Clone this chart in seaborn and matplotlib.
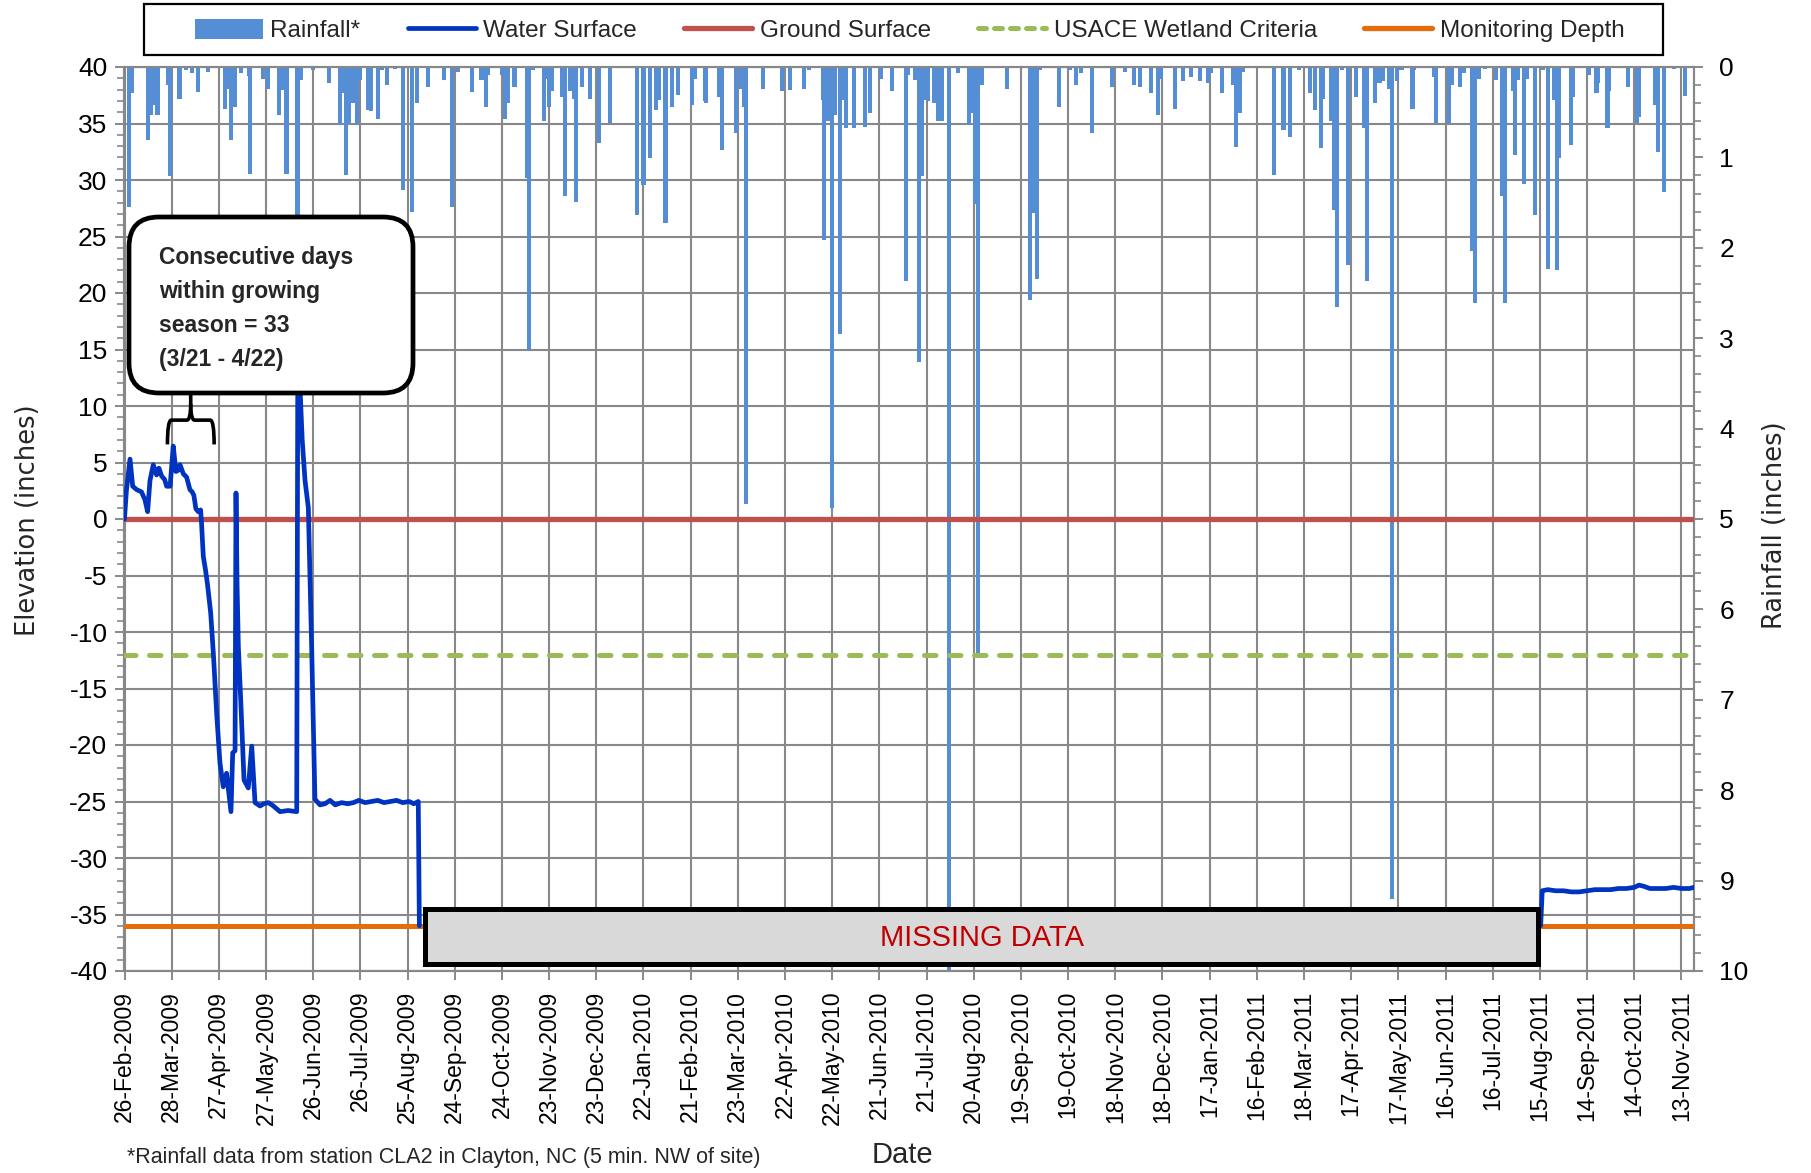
import numpy as np
import pandas as pd
import matplotlib
matplotlib.use("Agg")
import matplotlib.pyplot as plt
import matplotlib.dates as mdates
import matplotlib.transforms as mtrans
from matplotlib.ticker import MultipleLocator, FixedLocator
from matplotlib.patches import Rectangle, FancyBboxPatch, Patch, PathPatch
from matplotlib.lines import Line2D
from matplotlib.path import Path
from matplotlib import font_manager as fm
import seaborn as sns

# ---------------- data (days counted from START) ----------------
START = "2009-02-26"
X_END_DAY = 998
TICK_STEP_DAYS = 30
N_TICKS = 34

water1_day = [0, 1.2, 3.5, 5.2, 7.7, 10.8, 13, 14.7, 16.2, 18.3, 20.4, 21.9, 23.6, 25.5, 26.8, 29,
              31, 32.7, 34, 35.3, 37.4, 39.5, 41.6, 43, 44.1, 45.4, 46.9, 48.4, 49, 50.1, 51.5, 52.7,
              54.8, 56.5, 58.6, 60.7, 62.8, 64.9, 67.7, 68.8, 70.3, 70.9, 71.6, 72.4, 73.9, 76, 78.7,
              80.9, 83, 86.2, 88.5, 91.5, 94.7, 98.9, 104, 109.5, 110.2, 111.5, 113, 114.8, 116.9, 119,
              121.1, 124.3, 127.5, 130.7, 134, 138, 142, 145.5, 149, 153, 157, 161, 165, 169, 173, 177,
              181, 184, 186.8, 187.5]
water1_elev = [0, 2.5, 5.3, 2.9, 2.6, 2.4, 1.7, 0.65, 3.4, 4.8, 3.9, 4.5, 3.8, 3.5, 2.9, 2.9,
               6.45, 4.2, 4.3, 4.8, 4.0, 3.7, 2.6, 2.4, 2.1, 0.9, 0.65, 0.8, -0.4, -3.3, -4.5, -5.7,
               -8.3, -11.9, -17.2, -21.6, -23.7, -22.5, -25.9, -20.7, -20.5, 2.3, -6.0, -11.3, -16.0, -23.1, -23.8,
               -20.1, -25.1, -25.4, -25.2, -25.1, -25.4, -25.9, -25.8, -25.9, 14.0, 12.0, 7.0, 3.4, 1.0, -11.3,
               -24.8, -25.3, -25.2, -24.9, -25.3, -25.1, -25.2, -25.1, -24.9, -25.1, -25.0, -24.9, -25.1, -25.0, -24.9, -25.1,
               -25.0, -25.2, -25.0, -36.0]

water2_day = [900.5, 901.5, 905, 910, 915, 920, 925, 930, 935, 940, 945, 950, 955, 960, 963, 966,
              970, 975, 980, 985, 990, 995, 998]
water2_elev = [-36.0, -32.9, -32.8, -32.9, -32.9, -33.0, -33.0, -32.9, -32.8, -32.8, -32.8, -32.7, -32.7, -32.6, -32.4, -32.5,
               -32.7, -32.7, -32.7, -32.6, -32.7, -32.7, -32.6]

rain_day = [3, 5, 15, 17, 19, 21, 28, 29, 35, 39, 43, 47, 53, 64, 66, 68, 70, 74, 79, 80,
            88, 91, 98, 100, 103, 110, 112, 120, 130, 137, 139, 141, 143, 145, 148, 150, 155, 157, 161, 164,
            167, 172, 177, 183, 186, 193, 203, 208, 212, 221, 227, 230, 231, 240, 242, 244, 248, 256, 257, 260,
            267, 268, 270, 272, 278, 280, 283, 286, 287, 291, 296, 302, 309, 326, 330, 334, 338, 340, 344, 348,
            352, 361, 363, 369, 370, 378, 380, 389, 392, 394, 395, 406, 418, 423, 432, 435, 444, 445, 447, 450,
            452, 455, 456, 459, 464, 471, 474, 481, 488, 497, 498, 503, 505, 507, 509, 511, 515, 517, 520, 524,
            530, 537, 539, 541, 543, 545, 561, 576, 578, 580, 582, 594, 601, 605, 608, 615, 628, 636, 642, 646,
            653, 657, 659, 668, 673, 678, 684, 689, 691, 698, 705, 707, 709, 711, 731, 737, 741, 747, 754, 757,
            761, 762, 767, 769, 771, 774, 778, 783, 788, 790, 795, 798, 800, 804, 806, 809, 812, 819, 820, 833,
            834, 842, 844, 849, 852, 857, 859, 861, 865, 872, 876, 878, 883, 884, 886, 890, 892, 897, 902, 905,
            909, 911, 912, 920, 921, 931, 936, 937, 943, 944, 956, 962, 963, 973, 975, 979, 985, 992]
rain_in = [1.55, 0.29, 0.81, 0.53, 0.42, 0.53, 0.20, 1.21, 0.35, 0.03, 0.07, 0.28, 0.05, 0.46, 0.24, 0.81, 0.44, 0.07, 0.10, 1.18,
           0.13, 0.24, 0.53, 0.25, 1.18, 2.5, 0.14, 0.03, 0.18, 0.64, 0.29, 1.20, 0.62, 0.40, 0.64, 0.14, 0.48, 0.49, 0.57, 0.03,
           0.20, 0.02, 1.36, 1.60, 0.40, 0.22, 0.14, 1.55, 0.05, 0.28, 0.14, 0.44, 0.09, 0.09, 0.57, 0.40, 0.22, 1.23, 3.13, 0.03,
           0.60, 0.13, 0.44, 0.27, 0.33, 1.43, 0.27, 0.35, 1.49, 0.22, 0.35, 0.84, 0.62, 1.64, 1.30, 1.01, 0.48, 0.37, 1.73, 0.44,
           0.31, 0.42, 0.13, 0.38, 0.40, 0.33, 0.92, 0.73, 0.24, 0.44, 4.83, 0.24, 0.27, 0.25, 0.24, 0.03, 0.37, 1.91, 0.60, 4.88,
           0.53, 2.95, 0.37, 0.68, 0.68, 0.66, 0.51, 0.13, 0.27, 2.37, 0.09, 0.14, 3.26, 1.21, 0.37, 0.38, 0.40, 0.60, 0.60, 10.3,
           0.07, 0.64, 0.51, 1.51, 6.50, 0.20, 0.24, 2.58, 1.62, 2.34, 0.03, 0.44, 0.03, 0.20, 0.07, 0.73, 0.22, 0.05, 0.20, 0.22,
           0.29, 0.53, 0.13, 0.46, 0.16, 0.11, 0.16, 0.18, 0.07, 0.29, 0.20, 0.88, 0.51, 0.05, 1.19, 0.70, 0.77, 0.03, 0.29, 0.48,
           0.90, 0.35, 0.60, 1.58, 2.65, 0.03, 2.19, 0.33, 0.68, 2.37, 0.40, 0.18, 0.16, 0.24, 9.20, 0.16, 0.03, 0.46, 0.03, 0.11,
           0.62, 0.63, 0.20, 0.22, 0.07, 2.04, 2.61, 0.13, 0.02, 0.14, 1.43, 2.61, 0.27, 0.97, 0.14, 1.29, 0.13, 1.64, 0.03, 2.23,
           0.37, 2.25, 1.01, 0.86, 0.33, 0.09, 0.29, 0.18, 0.68, 0.27, 0.22, 0.62, 0.55, 0.42, 0.94, 1.38, 0.02, 0.32]

GROUND_ELEV = 0
USACE_ELEV = -12
MONITOR_ELEV = -36
MISSING_START_DAY = 191
MISSING_END_DAY = 899
MISSING_BOTTOM = -39.4
MISSING_TOP = -34.55

legend_labels = ["Rainfall*", "Water Surface", "Ground Surface", "USACE Wetland Criteria", "Monitoring Depth"]
callout_text = "Consecutive days\nwithin growing\nseason = 33\n(3/21 - 4/22)"
footnote = "*Rainfall data from station CLA2 in Clayton, NC (5 min. NW of site)"

# ---------------- style ----------------
RAIN = "#558ED5"
WATER = "#0033C0"
GROUND = "#C0504D"
USACE = "#9BBB59"
MONITOR = "#E46C0A"
GRID = "#888888"

sns.set_theme(style="white")
installed = {f.name for f in fm.fontManager.ttflist}
BASE = "Liberation Sans" if "Liberation Sans" in installed else "DejaVu Sans"
HAS_NARROW = "Liberation Sans Narrow" in installed
NARROW = "Liberation Sans Narrow" if HAS_NARROW else BASE
plt.rcParams["font.family"] = [BASE, "DejaVu Sans"]
plt.rcParams["axes.unicode_minus"] = False

W, H = 1811, 1173
fig = plt.figure(figsize=(W / 100, H / 100), dpi=100)
fig.patch.set_facecolor("white")
L, R, T, B = 124.5, 1694, 67, 971
ax = fig.add_axes([L / W, 1 - B / H, (R - L) / W, (B - T) / H])
ax2 = ax.twinx()
ax.set_zorder(3)
ax.patch.set_visible(False)
ax2.set_zorder(1)

s0 = mdates.date2num(pd.Timestamp(START))

# ---- grid (drawn on the lower axes, beneath bars) ----
tick_x = s0 + np.arange(N_TICKS) * TICK_STEP_DAYS
for xv in tick_x:
    ax2.axvline(xv, color=GRID, lw=1.5, zorder=0)
blend = mtrans.blended_transform_factory(ax2.transAxes, ax.transData)
for e in np.arange(-40, 41, 5):
    ax2.plot([0, 1], [e, e], transform=blend, color=GRID, lw=1.5, zorder=0)

# ---- rainfall bars (secondary, inverted) ----
ax2.bar(s0 + np.array(rain_day, dtype=float), rain_in, width=2.6, color=RAIN,
        linewidth=0, zorder=2)
ax2.set_ylim(10, 0)

# ---- water surface ----
df = pd.concat([
    pd.DataFrame({"day": water1_day, "elev": water1_elev, "seg": 1}),
    pd.DataFrame({"day": water2_day, "elev": water2_elev, "seg": 2}),
], ignore_index=True)
df["x"] = s0 + df["day"]

ax.axhline(GROUND_ELEV, color=GROUND, lw=3.8, zorder=4)
ax.axhline(USACE_ELEV, color=USACE, lw=3.6, dashes=(2.3, 2.7), dash_capstyle="round", zorder=4)
ax.axhline(MONITOR_ELEV, color=MONITOR, lw=3.6, zorder=4)
sns.lineplot(data=df, x="x", y="elev", units="seg", estimator=None, sort=False,
             color=WATER, linewidth=3.4, ax=ax, legend=False, zorder=6)

# ---- axes limits, ticks ----
ax.set_xlim(s0, s0 + X_END_DAY)
ax.set_ylim(-40, 40)
ax.set_xlabel("")
ax.set_ylabel("")
ax.xaxis.set_major_locator(FixedLocator(tick_x))
ax.xaxis.set_major_formatter(mdates.DateFormatter("%d-%b-%Y"))
ax.yaxis.set_major_locator(MultipleLocator(5))
ax.yaxis.set_minor_locator(MultipleLocator(1))
ax.tick_params(axis="y", which="both", left=True, right=False, direction="out", color=GRID, labelcolor="black")
ax.tick_params(axis="y", which="major", length=6.3, width=1.4, labelsize=19, pad=6)
ax.tick_params(axis="y", which="minor", length=4.8, width=1.2)
ax.tick_params(axis="x", which="major", bottom=True, direction="out", length=6.3, width=1.4,
               color=GRID, labelcolor="black", labelsize=16.5, labelrotation=90, pad=8)

ax2.set_yticks(np.arange(0, 11, 1))
ax2.yaxis.set_minor_locator(MultipleLocator(0.2))
ax2.tick_params(axis="y", which="both", right=True, left=False, direction="out", color=GRID, labelcolor="black")
ax2.tick_params(axis="y", which="major", length=6.3, width=1.4, labelsize=19, pad=12)
ax2.tick_params(axis="y", which="minor", length=4.8, width=1.2)
ax2.set_ylabel("")

for a in (ax, ax2):
    for sp in a.spines.values():
        sp.set_color(GRID)
        sp.set_linewidth(1.5)

# ---- missing data box ----
ax.add_patch(Rectangle((s0 + MISSING_START_DAY, MISSING_BOTTOM), MISSING_END_DAY - MISSING_START_DAY,
                       MISSING_TOP - MISSING_BOTTOM, facecolor="#D9D9D9", edgecolor="black",
                       lw=3.6, zorder=8))
ax.text(s0 + (MISSING_START_DAY + MISSING_END_DAY) / 2, (MISSING_TOP + MISSING_BOTTOM) / 2 - 0.1,
        "MISSING DATA", color="#C00000", fontsize=(24 if HAS_NARROW else 21),
        family=[NARROW, "DejaVu Sans"], ha="center", va="center", zorder=9)

# ---- callout ----
ax_w, ax_h = R - L, B - T
x0, x1 = (129 - L) / ax_w, (413 - L) / ax_w
y0, y1 = (B - 393) / ax_h, (B - 217) / ax_h
rad = 30 / ax_w
ax.add_patch(FancyBboxPatch((x0, y0), x1 - x0, y1 - y0,
                            boxstyle=f"round,pad=0,rounding_size={rad}",
                            mutation_aspect=ax_w / ax_h, transform=ax.transAxes,
                            facecolor="white", edgecolor="black", lw=3.4, zorder=10))
ax.text((159 - L) / ax_w, (B - 246) / ax_h, callout_text, transform=ax.transAxes,
        ha="left", va="top", fontsize=(19 if HAS_NARROW else 16.5), fontweight="heavy",
        family=[NARROW, "DejaVu Sans"], linespacing=(1.25 if HAS_NARROW else 1.62), zorder=11)

# brace under the callout
def bx(d):
    return s0 + d
left = [(bx(27.3), 6.6), (bx(27.3), 8.75), (bx(29.8), 8.75), (bx(39.6), 8.75),
        (bx(42.1), 8.75), (bx(42.1), 10.2), (bx(42.1), 11.3)]
right = [(bx(57.0), 6.6), (bx(57.0), 8.75), (bx(54.5), 8.75), (bx(44.6), 8.75),
         (bx(42.1), 8.75), (bx(42.1), 10.2)]
codes_l = [Path.MOVETO, Path.CURVE3, Path.CURVE3, Path.LINETO, Path.CURVE3, Path.CURVE3, Path.LINETO]
codes_r = [Path.MOVETO, Path.CURVE3, Path.CURVE3, Path.LINETO, Path.CURVE3, Path.CURVE3]
for verts, codes in ((left, codes_l), (right, codes_r)):
    ax.add_patch(PathPatch(Path(verts, codes), facecolor="none", edgecolor="black",
                           lw=2.6, zorder=10, capstyle="butt"))

# ---- legend with hand-drawn frame ----
handles = [
    Patch(facecolor=RAIN, edgecolor="none"),
    Line2D([], [], color=WATER, lw=3.4),
    Line2D([], [], color=GROUND, lw=3.8),
    Line2D([], [], color=USACE, lw=3.6, dashes=(1.6, 1.6), dash_capstyle="round"),
    Line2D([], [], color=MONITOR, lw=3.8),
]
leg = fig.legend(handles, legend_labels, loc="center", bbox_to_anchor=(909.6 / W, 1 - 30.5 / H),
                 ncol=5, frameon=False, fontsize=17.5, handlelength=2.8, handletextpad=0.3,
                 columnspacing=1.95, borderpad=0.2, handleheight=0.9)
fig.patches.append(Rectangle((144 / W, 1 - 55 / H), (1663 - 144) / W, (55 - 3.5) / H,
                             transform=fig.transFigure, facecolor="none", edgecolor="black",
                             lw=1.6, zorder=0))

# ---- axis titles & notes ----
fig.text(27.7 / W, 1 - 520 / H, "Elevation (inches)", rotation=90, ha="center", va="center",
         fontsize=18.5, family="DejaVu Sans")
fig.text(1775 / W, 1 - 525 / H, "Rainfall (inches)", rotation=90, ha="center", va="center",
         fontsize=18.5, family="DejaVu Sans")
fig.text(902 / W, 1 - 1155 / H, "Date", ha="center", va="center", fontsize=21)
fig.text(127 / W, 1 - 1158 / H, footnote, ha="left", va="center", fontsize=15.5)

fig.savefig("out.png", dpi=100, facecolor="white")
